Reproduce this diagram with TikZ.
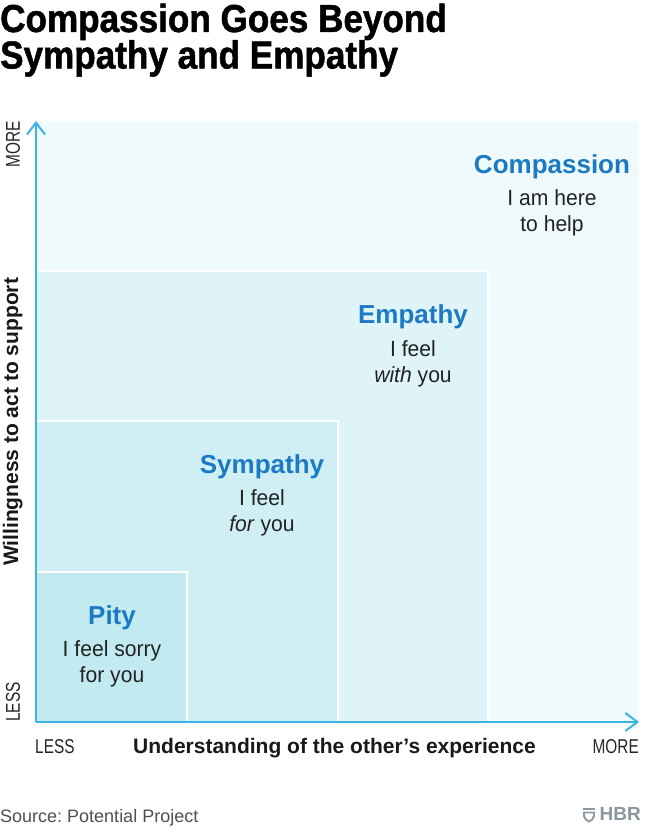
\documentclass[tikz,border=0pt]{standalone}
\usepackage{fontspec}
\setmainfont{Liberation Sans}
\newfontfamily\titlefont[FakeStretch=0.9, BoldFeatures={FakeBold=1.3}]{Liberation Sans}
\newfontfamily\condfont[FakeStretch=0.96]{Liberation Sans}
\newfontfamily\capsfont[FakeStretch=0.77]{Liberation Sans}
\usetikzlibrary{arrows.meta}
\definecolor{axisblue}{HTML}{3BB4E5}
\definecolor{lblblue}{HTML}{1B7AC2}
\definecolor{fillA}{HTML}{EEFAFC}
\definecolor{fillB}{HTML}{DEF4F8}
\definecolor{fillC}{HTML}{CFEFF5}
\definecolor{fillD}{HTML}{C1EAF1}
\definecolor{bodytxt}{HTML}{222222}
\definecolor{srcgrey}{HTML}{505050}
\definecolor{logogrey}{HTML}{8A979D}
\tikzset{
  zone/.style={draw=white, line width=1.5pt},
  ttl/.style={inner sep=0pt, anchor=base, font=\fontsize{26}{30}\selectfont\bfseries, text=lblblue},
  bodyline/.style={inner sep=0pt, anchor=base, font=\condfont\fontsize{22}{26}\selectfont, text=bodytxt},
  axlbl/.style={inner sep=0pt, font=\fontsize{21}{25}\selectfont\bfseries, text=black!90},
  capslbl/.style={inner sep=0pt, font=\capsfont\fontsize{20}{24}\selectfont, text=black!85},
  axisline/.style={draw=axisblue, line width=2pt, -{Straight Barb[length=12pt, width=18pt, line width=2pt]}},
}
\begin{document}
\begin{tikzpicture}[x=1pt,y=1pt]
\useasboundingbox (0,0) rectangle (647,831);
\fill[white] (0,0) rectangle (647,831);
% title
\node[inner sep=0pt, anchor=base west, font=\titlefont\fontsize{39}{44}\selectfont\bfseries] (t1) at (0,799) {Compassion Goes Beyond};
\node[inner sep=0pt, anchor=base west, font=\titlefont\fontsize{39}{44}\selectfont\bfseries] (t2) at (0,762.5) {Sympathy and Empathy};
% zones
\fill[fillA] (36,109) rectangle (639,710);
\draw[zone, fill=fillB] (36,109) rectangle (488,560);
\draw[zone, fill=fillC] (36,109) rectangle (338,410);
\draw[zone, fill=fillD] (36,109) rectangle (187,259);
% axes
\coordinate (O) at (36,109);
\coordinate (ytop) at (36,710);
\coordinate (xend) at (639,109);
\draw[axisline] (O) -- (ytop);
\draw[axisline] (O) -- (xend);
% labels
\node[ttl] (compT) at (552,657) {Compassion};
\node[bodyline] (comp1) at (552,625) {I am here};
\node[bodyline] (comp2) at (552,599) {to help};
\node[ttl] (empT) at (413,507) {Empathy};
\node[bodyline] (emp1) at (413,474) {I feel};
\node[bodyline] (emp2) at (413,448) {\textit{with} you};
\node[ttl] (symT) at (262,357) {Sympathy};
\node[bodyline] (sym1) at (262,325) {I feel};
\node[bodyline] (sym2) at (262,299) {\textit{for} you};
\node[ttl] (pityT) at (112,206) {Pity};
\node[bodyline] (pity1) at (112,174) {I feel sorry};
\node[bodyline] (pity2) at (112,148) {for you};
% axis labels
\node[axlbl, rotate=90, anchor=base] (ylab) at (18,409) {Willingness to act to support};
\node[capslbl, rotate=90, anchor=base east] (ymore) at (20,710) {MORE};
\node[capslbl, rotate=90, anchor=base west] (yless) at (20,109) {LESS};
\node[axlbl, anchor=base west] (xlab) at (133,77) {Understanding of the other’s experience};
\node[capslbl, anchor=base west] (xless) at (35,77) {LESS};
\node[capslbl, anchor=base east] (xmore) at (639,77) {MORE};
% footer
\node[inner sep=0pt, anchor=base west, font=\fontsize{18}{22}\selectfont, text=srcgrey] (src) at (0,9) {\frenchspacing Source: Potential Project};
\node[inner sep=0pt, anchor=base east, font=\fontsize{19}{22}\selectfont\bfseries, text=logogrey] (hbr) at (641,10) {HBR};
\draw[logogrey, line width=1.8pt] (583,22) -- (595,22);
\draw[logogrey, line width=1.8pt, line join=round] (584,18.5) -- (584,15) .. controls (584,12) and (587,10.5) .. (589,9.5) .. controls (591,10.5) and (594,12) .. (594,15) -- (594,18.5) -- cycle;
\end{tikzpicture}
\end{document}
